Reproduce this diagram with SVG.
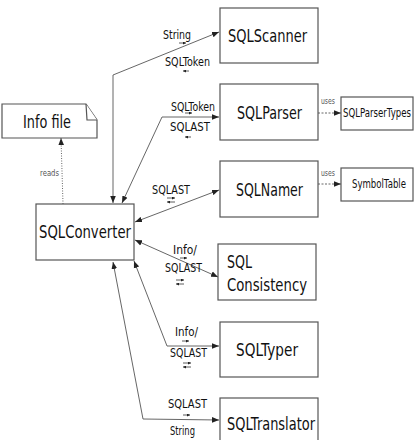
<svg xmlns="http://www.w3.org/2000/svg" width="414" height="440" viewBox="0 0 414 440">
<style>
.box{fill:#fff;stroke:#555;stroke-width:1.2}
.big{font-family:"DejaVu Sans",sans-serif;font-size:18px;fill:#111}
.lbl{font-family:"DejaVu Sans",sans-serif;font-size:12px;fill:#111}
.tiny{font-family:"DejaVu Sans",sans-serif;font-size:9px;fill:#555}
.con{fill:none;stroke:#555;stroke-width:0.9}
.sa{fill:none;stroke:#333;stroke-width:0.8}
</style>
<defs>
<marker id="ah" viewBox="0 0 10 10" refX="10" refY="5" markerWidth="7" markerHeight="7" markerUnits="userSpaceOnUse" orient="auto-start-reverse"><path d="M0,1 L10,5 L0,9 Z" fill="#222"/></marker>
<marker id="sh" viewBox="0 0 10 10" refX="10" refY="5" markerWidth="3" markerHeight="3" markerUnits="userSpaceOnUse" orient="auto"><path d="M0,0 L10,5 L0,10 Z" fill="#222"/></marker>
</defs>
<g id="connectors">
<path class="con" d="M113,203 L113,75 L219,32" marker-start="url(#ah)" marker-end="url(#ah)"/>
<path class="con" d="M122,203 L162,117 L219,117" marker-start="url(#ah)" marker-end="url(#ah)"/>
<path class="con" d="M135,222 L219,190" marker-start="url(#ah)" marker-end="url(#ah)"/>
<path class="con" d="M135,240 L218,277" marker-start="url(#ah)" marker-end="url(#ah)"/>
<path class="con" d="M134,261 L167,346 L219,346" marker-start="url(#ah)" marker-end="url(#ah)"/>
<path class="con" d="M113,262 L143,419 L219,420" marker-start="url(#ah)" marker-end="url(#ah)"/>
<path class="con" d="M318,113 L341,113" stroke-dasharray="2,1.5" marker-end="url(#ah)"/>
<path class="con" d="M318,184 L341,184" stroke-dasharray="2,1.5" marker-end="url(#ah)"/>
<path class="con" d="M63,204 L61,138" stroke-dasharray="1,1.5" marker-end="url(#ah)"/>
<text class="tiny" x="321" y="104" textLength="14" lengthAdjust="spacingAndGlyphs">uses</text>
<text class="tiny" x="321" y="176" textLength="14" lengthAdjust="spacingAndGlyphs">uses</text>
<text class="tiny" x="40" y="176" textLength="19" lengthAdjust="spacingAndGlyphs">reads</text>
<text class="lbl" x="163" y="39" textLength="28" lengthAdjust="spacingAndGlyphs">String</text>
<path class="sa" d="M179,43 L186,43" marker-end="url(#sh)"/>
<text class="lbl" x="165" y="66" textLength="45" lengthAdjust="spacingAndGlyphs">SQLToken</text>
<path class="sa" d="M189,71 L183,71" marker-end="url(#sh)"/>
<text class="lbl" x="171" y="111" textLength="44" lengthAdjust="spacingAndGlyphs">SQLToken</text>
<path class="sa" d="M185,113 L192,113" marker-end="url(#sh)"/>
<text class="lbl" x="170" y="131" textLength="40" lengthAdjust="spacingAndGlyphs">SQLAST</text>
<path class="sa" d="M191,137 L185,137" marker-end="url(#sh)"/>
<text class="lbl" x="152" y="194" textLength="38" lengthAdjust="spacingAndGlyphs">SQLAST</text>
<path class="sa" d="M167,198 L175,198" marker-end="url(#sh)"/>
<path class="sa" d="M175,202 L167,202" marker-end="url(#sh)"/>
<text class="lbl" x="173" y="254" textLength="24" lengthAdjust="spacingAndGlyphs">Info/</text>
<path class="sa" d="M180,258 L187,258" marker-end="url(#sh)"/>
<text class="lbl" x="165" y="272" textLength="37" lengthAdjust="spacingAndGlyphs">SQLAST</text>
<path class="sa" d="M176,280 L184,280" marker-end="url(#sh)"/>
<path class="sa" d="M184,284 L176,284" marker-end="url(#sh)"/>
<text class="lbl" x="175" y="336" textLength="23" lengthAdjust="spacingAndGlyphs">Info/</text>
<path class="sa" d="M182,341 L189,341" marker-end="url(#sh)"/>
<text class="lbl" x="170" y="357" textLength="37" lengthAdjust="spacingAndGlyphs">SQLAST</text>
<path class="sa" d="M183,363 L191,363" marker-end="url(#sh)"/>
<path class="sa" d="M191,367 L183,367" marker-end="url(#sh)"/>
<text class="lbl" x="168" y="408" textLength="39" lengthAdjust="spacingAndGlyphs">SQLAST</text>
<path class="sa" d="M183,415 L190,415" marker-end="url(#sh)"/>
<text class="lbl" x="170" y="435" textLength="25" lengthAdjust="spacingAndGlyphs">String</text>
</g>
<g id="infofile">
<path class="box" d="M2,104 L86,104 L97,120 L97,138 L2,138 Z"/>
<path class="box" d="M86,104 L87,120 L97,120"/>
<text class="big" x="23" y="128" textLength="48" lengthAdjust="spacingAndGlyphs">Info file</text>
</g>
<g id="sqlconverter">
<rect class="box" x="36" y="204" width="98" height="56"/>
<text class="big" x="39" y="238" textLength="92" lengthAdjust="spacingAndGlyphs">SQLConverter</text>
</g>
<g id="sqlscanner">
<rect class="box" x="220" y="8" width="98" height="55"/>
<text class="big" x="228" y="42" textLength="79" lengthAdjust="spacingAndGlyphs">SQLScanner</text>
</g>
<g id="sqlparser">
<rect class="box" x="220" y="84" width="98" height="56"/>
<text class="big" x="237" y="119" textLength="65" lengthAdjust="spacingAndGlyphs">SQLParser</text>
</g>
<g id="sqlnamer">
<rect class="box" x="220" y="161" width="98" height="56"/>
<text class="big" x="236" y="196" textLength="67" lengthAdjust="spacingAndGlyphs">SQLNamer</text>
</g>
<g id="sqlconsistency">
<rect class="box" x="218" y="244" width="98" height="56"/>
<text class="big" x="227" y="268" textLength="25" lengthAdjust="spacingAndGlyphs">SQL</text>
<text class="big" x="227" y="291" textLength="80" lengthAdjust="spacingAndGlyphs">Consistency</text>
</g>
<g id="sqltyper">
<rect class="box" x="220" y="322" width="98" height="55"/>
<text class="big" x="236" y="356" textLength="62" lengthAdjust="spacingAndGlyphs">SQLTyper</text>
</g>
<g id="sqltranslator">
<rect class="box" x="220" y="398" width="98" height="56"/>
<text class="big" x="227" y="430" textLength="88" lengthAdjust="spacingAndGlyphs">SQLTranslator</text>
</g>
<g id="sqlparsertypes">
<rect class="box" x="341" y="97" width="72" height="33"/>
<text class="lbl" x="343" y="117" textLength="68" lengthAdjust="spacingAndGlyphs">SQLParserTypes</text>
</g>
<g id="symboltable">
<rect class="box" x="341" y="168" width="72" height="33"/>
<text class="lbl" x="352" y="188" textLength="54" lengthAdjust="spacingAndGlyphs">SymbolTable</text>
</g>
</svg>
